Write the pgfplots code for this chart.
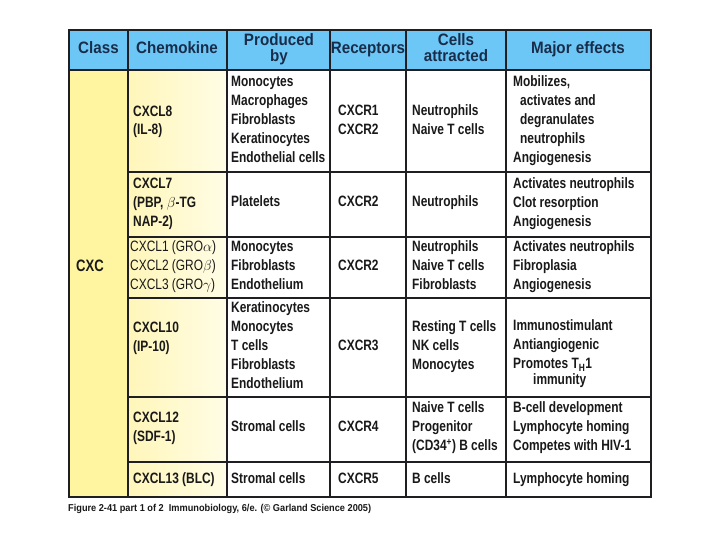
\documentclass[border=0pt]{standalone}
\usepackage{pgfplots}
\pgfplotsset{compat=1.18}
\usepackage{fontspec}
\setmainfont{Liberation Sans}[FakeStretch=0.795]
\newfontfamily\hdfont{Liberation Sans}[FakeStretch=0.92]
\newfontfamily\capfont{Liberation Sans}[FakeStretch=0.92]

\definecolor{hdblue}{RGB}{108,199,246}
\definecolor{clsyel}{RGB}{255,244,160}
\definecolor{chemL}{RGB}{255,246,185}
\definecolor{chemR}{RGB}{255,253,230}
\definecolor{rule}{RGB}{30,30,35}
\definecolor{hdtext}{RGB}{25,45,75}
\definecolor{bodytext}{RGB}{25,25,25}

% body text, left aligned at (x, y-centre)
\newcommand\cell[3]{\node[anchor=west,inner sep=0pt,text height=10.5pt,text depth=3pt,
  text=bodytext,font=\bfseries\fontsize{15}{17}\selectfont] at (axis cs:#1,#2) {#3};}
% header text, centred
\newcommand\hd[3]{\node[anchor=center,inner sep=0pt,text height=11pt,text depth=3pt,
  text=hdtext,font=\hdfont\bfseries\fontsize{16.5}{18}\selectfont] at (axis cs:#1,#2) {#3};}

\begin{document}
\begin{tikzpicture}
\begin{axis}[
  width=720pt, height=540pt, scale only axis,
  xmin=0, xmax=720, ymin=0, ymax=540, y dir=reverse,
  hide axis, clip=false,
]
\path[fill=white] (axis cs:0,0) rectangle (axis cs:720,540);

% cell fills
\addplot[draw=none, fill=hdblue] coordinates {(69,30) (651,30) (651,70) (69,70)} -- cycle;
\addplot[draw=none, fill=clsyel] coordinates {(69,70) (128,70) (128,497) (69,497)} -- cycle;
\addplot[draw=none, left color=chemL, right color=chemR] coordinates {(128,70) (227,70) (227,497) (128,497)} -- cycle;

% inner rules
\addplot[rule, line width=1.6pt] coordinates {(128,30) (128,497)};
\addplot[rule, line width=1.6pt] coordinates {(227,30) (227,497)};
\addplot[rule, line width=1.6pt] coordinates {(330,30) (330,497)};
\addplot[rule, line width=1.6pt] coordinates {(406,30) (406,497)};
\addplot[rule, line width=1.6pt] coordinates {(506,30) (506,497)};
\addplot[rule, line width=2.2pt] coordinates {(69,70) (651,70)};
\addplot[rule, line width=1.6pt] coordinates {(128,172) (651,172)};
\addplot[rule, line width=1.6pt] coordinates {(128,237) (651,237)};
\addplot[rule, line width=1.6pt] coordinates {(128,298) (651,298)};
\addplot[rule, line width=1.6pt] coordinates {(128,397) (651,397)};
\addplot[rule, line width=1.6pt] coordinates {(128,462) (651,462)};
% outer frame
\addplot[rule, line width=2.6pt] coordinates {(69,30) (651,30) (651,497) (69,497)} -- cycle;

% header
\hd{98.5}{50}{Class}
\hd{177}{50}{Chemokine}
\hd{279}{42}{Produced}
\hd{279}{58}{by}
\hd{368}{50}{Receptors}
\hd{456}{42}{Cells}
\hd{456}{58}{attracted}
\hd{578}{50}{Major effects}

% class
\node[anchor=west,inner sep=0pt,text=bodytext,font=\bfseries\fontsize{16.5}{18}\selectfont]
  at (axis cs:76,266) {CXC};

% CXCL8
\cell{133}{113}{CXCL8}
\cell{133}{131}{(IL-8)}
\cell{231}{83}{Monocytes}
\cell{231}{102}{Macrophages}
\cell{231}{121}{Fibroblasts}
\cell{231}{140}{Keratinocytes}
\cell{231}{159}{Endothelial cells}
\cell{338}{112}{CXCR1}
\cell{338}{131}{CXCR2}
\cell{412}{112}{Neutrophils}
\cell{412}{131}{Naive T cells}
\cell{513}{83}{Mobilizes,}
\cell{520}{102}{activates and}
\cell{520}{121}{degranulates}
\cell{520}{140}{neutrophils}
\cell{513}{159}{Angiogenesis}

% CXCL7
\cell{133}{185}{CXCL7}
\cell{133}{204}{(PBP, $\beta$-TG}
\cell{133}{223}{NAP-2)}
\cell{231}{203}{Platelets}
\cell{338}{203}{CXCR2}
\cell{412}{203}{Neutrophils}
\cell{513}{185}{Activates neutrophils}
\cell{513}{204}{Clot resorption}
\cell{513}{223}{Angiogenesis}

% CXCL1-3
\cell{130}{248}{\mdseries CXCL1 (GRO$\alpha$)}
\cell{130}{267}{\mdseries CXCL2 (GRO$\beta$)}
\cell{130}{286}{\mdseries CXCL3 (GRO$\gamma$)}
\cell{231}{248}{Monocytes}
\cell{231}{267}{Fibroblasts}
\cell{231}{286}{Endothelium}
\cell{338}{267}{CXCR2}
\cell{412}{248}{Neutrophils}
\cell{412}{267}{Naive T cells}
\cell{412}{286}{Fibroblasts}
\cell{513}{248}{Activates neutrophils}
\cell{513}{267}{Fibroplasia}
\cell{513}{286}{Angiogenesis}

% CXCL10
\cell{133}{329}{CXCL10}
\cell{133}{348}{(IP-10)}
\cell{231}{309}{Keratinocytes}
\cell{231}{328}{Monocytes}
\cell{231}{347}{T cells}
\cell{231}{366}{Fibroblasts}
\cell{231}{385}{Endothelium}
\cell{338}{347}{CXCR3}
\cell{412}{328}{Resting T cells}
\cell{412}{347}{NK cells}
\cell{412}{366}{Monocytes}
\cell{513}{327}{Immunostimulant}
\cell{513}{346}{Antiangiogenic}
\cell{513}{365}{Promotes T\textsubscript{H}1}
\cell{533}{381}{immunity}

% CXCL12
\cell{133}{419}{CXCL12}
\cell{133}{438}{(SDF-1)}
\cell{231}{428}{Stromal cells}
\cell{338}{428}{CXCR4}
\cell{412}{409}{Naive T cells}
\cell{412}{428}{Progenitor}
\cell{412}{447}{(CD34\textsuperscript{+}) B cells}
\cell{513}{409}{B-cell development}
\cell{513}{428}{Lymphocyte homing}
\cell{513}{447}{Competes with HIV-1}

% CXCL13
\cell{133}{480}{CXCL13 (BLC)}
\cell{231}{480}{Stromal cells}
\cell{338}{480}{CXCR5}
\cell{412}{480}{B cells}
\cell{513}{480}{Lymphocyte homing}

% caption
\node[anchor=west, inner sep=0pt, text=bodytext, font=\capfont\bfseries\fontsize{10}{12}\selectfont]
  at (axis cs:68,509) {Figure 2-41 part 1 of 2\ \ Immunobiology, 6/e. (\textcopyright\ Garland Science 2005)};
\end{axis}
\end{tikzpicture}
\end{document}
